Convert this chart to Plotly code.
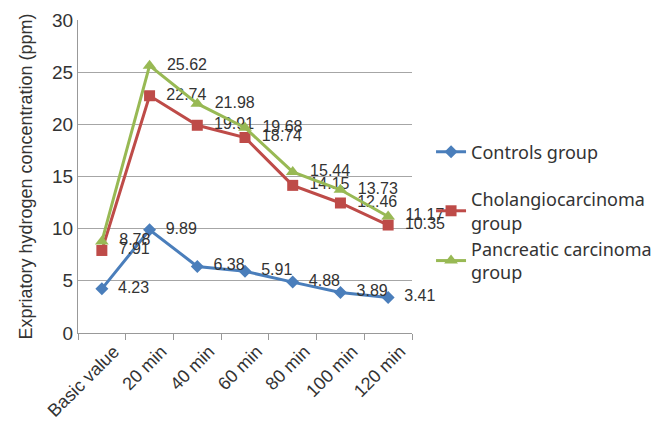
import plotly.graph_objects as go

categories = ["Basic value", "20 min", "40 min", "60 min", "80 min", "100 min", "120 min"]
controls = [4.23, 9.89, 6.38, 5.91, 4.88, 3.89, 3.41]
cholangio = [7.91, 22.74, 19.91, 18.74, 14.15, 12.46, 10.35]
pancreatic = [8.78, 25.62, 21.98, 19.68, 15.44, 13.73, 11.17]
series_names = ["Controls group", "Cholangiocarcinoma<br>group", "Pancreatic carcinoma<br>group"]
y_ticks = [0, 5, 10, 15, 20, 25, 30]

fig = go.Figure()
specs = [
    (controls, series_names[0], "#4a7ebb", "diamond", 10, "legend"),
    (cholangio, series_names[1], "#be4b48", "square", 11, "legend2"),
    (pancreatic, series_names[2], "#98b954", "triangle-up", 12, "legend2"),
]
label_font = dict(family="Liberation Sans, Arial, sans-serif", size=16, color="#333333")
for vals, name, color, sym, msize, leg in specs:
    fig.add_trace(go.Scatter(
        x=categories, y=vals, name=name, mode="lines+markers+text",
        line=dict(color=color, width=3),
        marker=dict(symbol=sym, size=msize, color=color),
        text=["  " + f"{v:.2f}" for v in vals],
        textposition="middle right",
        textfont=label_font,
        legend=leg,
        cliponaxis=False,
    ))

legend_font = dict(family="Noto Sans, sans-serif", size=18, color="#333333")
fig.update_layout(
    width=660, height=414,
    margin=dict(l=70, r=256, t=12, b=89, autoexpand=False),
    plot_bgcolor="white", paper_bgcolor="white",
    font=dict(family="Liberation Sans, Arial, sans-serif", size=17, color="#333333"),
    showlegend=True,
    legend=dict(
        x=1.057, xanchor="left", y=0.578, yanchor="middle",
        font=legend_font, itemwidth=30, bgcolor="rgba(0,0,0,0)",
    ),
    legend2=dict(
        x=1.057, xanchor="left", y=0.486, yanchor="top",
        font=legend_font, itemwidth=30, bgcolor="rgba(0,0,0,0)",
        tracegroupgap=0,
    ),
)
fig.update_xaxes(
    type="category", range=[-0.5, 6.5], automargin=False,
    tickangle=-45, tickfont=dict(size=18), ticklabelshift=12,
    showline=True, linecolor="#999999", linewidth=1,
    ticks="outside", ticklen=6, tickcolor="#999999",
    tickson="boundaries", showgrid=False,
)
fig.update_yaxes(
    range=[0, 30], tickvals=y_ticks, tickfont=dict(size=19), automargin=False,
    title=dict(text="Expriatory hydrogen concentration (ppm)", font=dict(size=18), standoff=14),
    showline=True, linecolor="#999999", linewidth=1,
    gridcolor="#a6a6a6", gridwidth=1, zeroline=False,
)
fig.write_html("out.html")
